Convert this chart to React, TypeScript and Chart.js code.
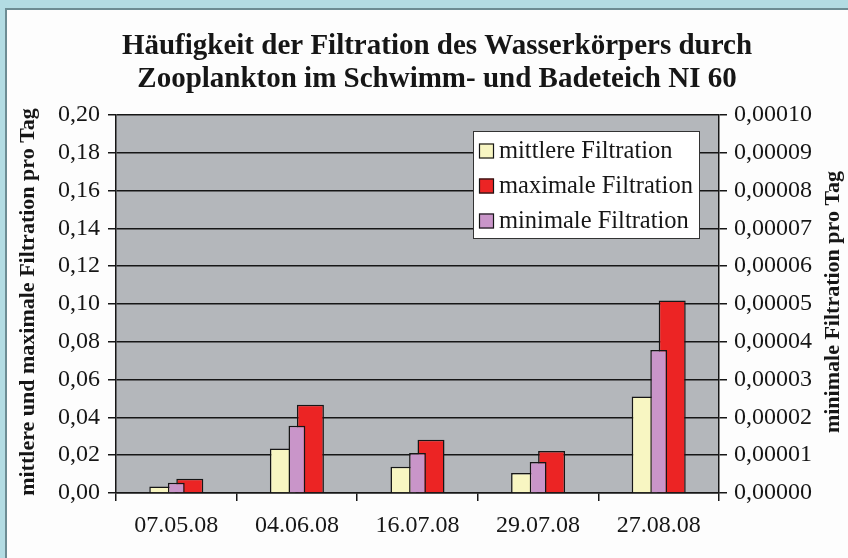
import React, { useEffect, useRef } from 'react';
import { Chart, registerables } from 'chart.js';

Chart.register(...registerables);

const categories = ['07.05.08', '04.06.08', '16.07.08', '29.07.08', '27.08.08'];
const mittlere = [0.0035, 0.0236, 0.0139, 0.0106, 0.051];
const maximale = [0.0076, 0.0467, 0.0282, 0.0222, 0.1019];
const minimale = [0.0000027, 0.0000178, 0.0000106, 0.0000082, 0.0000378];
const seriesLabels = ['mittlere Filtration', 'maximale Filtration', 'minimale Filtration'];
const seriesColors = ['#f8f6c2', '#ec2424', '#c995c9'];
const titleLines = [
  'Häufigkeit der Filtration des Wasserkörpers durch',
  'Zooplankton im Schwimm- und Badeteich NI 60',
];
const leftAxisTitle = 'mittlere und maximale Filtration pro Tag';
const rightAxisTitle = 'minimale Filtration pro Tag';

const SERIF = '"Liberation Serif", "Times New Roman", serif';
const INK = '#161616';

const decorPlugin = {
  id: 'decor',
  beforeDraw(chart: any) {
    const { ctx, chartArea: a, width, height } = chart;
    ctx.save();
    ctx.fillStyle = '#fdfdfd';
    ctx.fillRect(0, 0, width, height);
    ctx.fillStyle = '#b3dce3';
    ctx.fillRect(0, 0, width, 8);
    ctx.fillRect(0, 0, 5, height);
    ctx.fillStyle = '#6d8c93';
    ctx.fillRect(5, 8, width - 5, 2);
    ctx.fillRect(5, 8, 2, height - 8);
    ctx.fillStyle = '#b4b7bb';
    ctx.fillRect(a.left, a.top, a.right - a.left, a.bottom - a.top);
    ctx.restore();
  },
  afterDraw(chart: any) {
    const { ctx, chartArea: a } = chart;
    ctx.save();
    ctx.fillStyle = INK;
    // Title
    ctx.font = `bold 29px ${SERIF}`;
    ctx.textAlign = 'center';
    ctx.textBaseline = 'middle';
    ctx.fillText(titleLines[0], 437, 47);
    ctx.fillText(titleLines[1], 437, 80);
    // Axis titles
    const midY = (a.top + a.bottom) / 2;
    ctx.font = `bold 22px ${SERIF}`;
    ctx.save();
    ctx.translate(28, midY - 2);
    ctx.rotate(-Math.PI / 2);
    ctx.fillText(leftAxisTitle, 0, 0);
    ctx.restore();
    ctx.save();
    ctx.translate(833, midY - 2);
    ctx.rotate(-Math.PI / 2);
    ctx.fillText(rightAxisTitle, 0, 0);
    ctx.restore();
    // Legend
    const bx = 473, by = 131, bw = 226, bh = 107;
    ctx.fillStyle = '#ffffff';
    ctx.fillRect(bx, by, bw, bh);
    ctx.strokeStyle = '#333';
    ctx.lineWidth = 1;
    ctx.strokeRect(bx + 0.5, by + 0.5, bw, bh);
    ctx.font = `24.5px ${SERIF}`;
    ctx.textAlign = 'left';
    const ds = chart.data.datasets;
    for (let i = 0; i < ds.length; i++) {
      const cy = 151 + i * 35;
      ctx.fillStyle = ds[i].backgroundColor;
      ctx.fillRect(479, cy - 7.5, 15, 15);
      ctx.strokeStyle = INK;
      ctx.lineWidth = 1.2;
      ctx.strokeRect(479.5, cy - 7, 14, 14);
      ctx.fillStyle = INK;
      ctx.fillText(ds[i].label, 499, cy + 1);
    }
    ctx.restore();
  },
};

export default function App() {
  const ref = useRef<HTMLCanvasElement>(null);
  useEffect(() => {
    if (!ref.current) return;
    const tickFont = { family: SERIF, size: 24 };
    const chart = new Chart(ref.current, {
      type: 'bar',
      data: {
        labels: categories,
        datasets: [
          {
            label: seriesLabels[0],
            data: mittlere,
            yAxisID: 'y',
            backgroundColor: seriesColors[0],
            borderColor: INK,
            borderWidth: 1.5,
            categoryPercentage: 0.448,
            barPercentage: 1,
          },
          {
            label: seriesLabels[1],
            data: maximale,
            yAxisID: 'y',
            backgroundColor: seriesColors[1],
            borderColor: INK,
            borderWidth: 1.5,
            categoryPercentage: 0.448,
            barPercentage: 1,
          },
          {
            label: seriesLabels[2],
            data: minimale,
            yAxisID: 'y1',
            backgroundColor: seriesColors[2],
            borderColor: INK,
            borderWidth: 1.5,
            grouped: false,
            barPercentage: 0.174,
            order: -1,
          },
        ] as any,
      },
      options: {
        responsive: false,
        animation: false,
        devicePixelRatio: 1,
        layout: { padding: { top: 115, left: 0, right: 0, bottom: 0 } },
        plugins: {
          legend: { display: false },
          title: { display: false },
          tooltip: { enabled: false },
        },
        scales: {
          x: {
            offset: true,
            grid: {
              display: true,
              offset: true,
              drawOnChartArea: false,
              drawTicks: true,
              tickLength: 8,
              color: INK,
              lineWidth: 1.5,
            },
            border: { display: true, color: INK, width: 1.5 },
            ticks: { font: tickFont, color: INK, padding: 10, maxRotation: 0 },
            afterFit: (s: any) => { s.height = 65; },
          },
          y: {
            position: 'left',
            min: 0,
            max: 0.2,
            ticks: {
              stepSize: 0.02,
              font: tickFont,
              color: INK,
              padding: 8,
              callback: (v: any) => Number(v).toFixed(2).replace('.', ','),
            },
            grid: { color: INK, lineWidth: 1.5, tickLength: 8 },
            border: { display: true, color: INK, width: 1.5 },
            afterFit: (s: any) => { s.width = 116; },
          },
          y1: {
            position: 'right',
            min: 0,
            max: 0.0001,
            ticks: {
              stepSize: 0.00001,
              font: tickFont,
              color: INK,
              padding: 7,
              callback: (v: any) => Number(v).toFixed(5).replace('.', ','),
            },
            grid: { drawOnChartArea: false, color: INK, lineWidth: 1.5, tickLength: 8 },
            border: { display: true, color: INK, width: 1.5 },
            afterFit: (s: any) => { s.width = 129; },
          },
        },
      } as any,
      plugins: [decorPlugin],
    });
    return () => chart.destroy();
  }, []);
  return (
    <div style={{ position: 'fixed', left: 0, top: 0, width: 848, height: 558 }}>
      <canvas ref={ref} width={848} height={558} style={{ display: 'block', width: 848, height: 558 }} />
    </div>
  );
}
